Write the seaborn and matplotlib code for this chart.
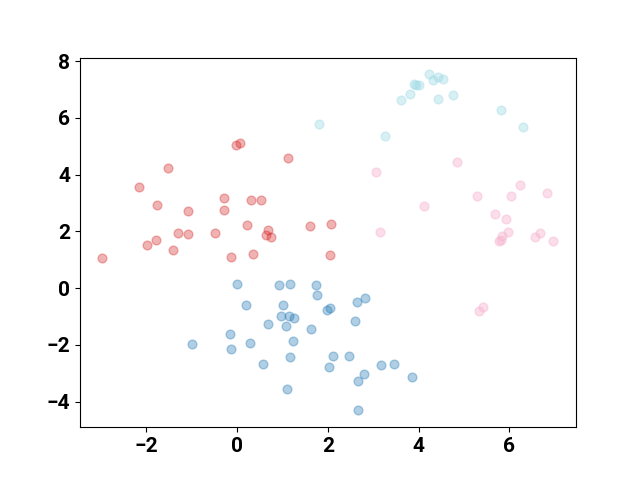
import pandas as pd
import matplotlib
matplotlib.use("Agg")
import matplotlib.pyplot as plt
import seaborn as sns

# Pontos, um grupo por cor
red_x = [-0.03, 0.06, 1.12, -1.53, -2.17, -1.76, -0.29, -0.28, -1.09, 0.30, 0.53, 0.21, 1.61, 2.07,
         0.68, 0.63, 0.74, -1.30, -1.09, -0.48, -1.78, -1.98, -1.41, -2.97, -0.13, 0.35, 2.05]
red_y = [5.05, 5.11, 4.57, 4.22, 3.56, 2.94, 3.17, 2.75, 2.73, 3.10, 3.10, 2.22, 2.18, 2.26,
         2.05, 1.87, 1.80, 1.95, 1.92, 1.95, 1.69, 1.53, 1.35, 1.07, 1.09, 1.21, 1.16]

blue_x = [0.00, 0.93, 1.17, 1.74, 1.77, 0.19, 1.02, 0.97, 1.15, 1.26, 1.07, 0.68, 1.62, 1.99, 2.04,
          -0.15, -0.13, 0.29, -1.00, 1.23, 1.17, 0.57, 1.10, 2.64, 2.82, 2.60, 2.11, 2.47, 2.03,
          3.17, 3.46, 2.80, 2.67, 3.85, 2.67]
blue_y = [0.16, 0.12, 0.13, 0.12, -0.24, -0.60, -0.58, -0.98, -0.99, -1.07, -1.34, -1.25, -1.43, -0.78, -0.71,
          -1.61, -2.16, -1.93, -1.96, -1.88, -2.41, -2.68, -3.57, -0.50, -0.36, -1.15, -2.38, -2.39, -2.78,
          -2.72, -2.68, -3.02, -3.29, -3.12, -4.30]

cyan_x = [1.81, 3.27, 3.61, 3.82, 3.89, 3.95, 4.00, 4.24, 4.32, 4.43, 4.55, 4.43, 4.76, 5.81, 6.30]
cyan_y = [5.77, 5.35, 6.64, 6.83, 7.18, 7.17, 7.14, 7.55, 7.33, 7.44, 7.38, 6.67, 6.81, 6.27, 5.68]

pink_x = [3.06, 4.84, 6.24, 5.28, 6.04, 6.83, 4.13, 5.68, 5.93, 3.15, 5.98, 5.84, 5.78, 5.82,
          6.57, 6.67, 6.97, 5.33, 5.43]
pink_y = [4.09, 4.43, 3.64, 3.25, 3.23, 3.35, 2.90, 2.61, 2.42, 1.99, 1.96, 1.82, 1.66, 1.70,
          1.80, 1.93, 1.65, -0.81, -0.66]

grupos = [
    (red_x, red_y, "#d62728", 0.35),
    (blue_x, blue_y, "#1f77b4", 0.35),
    (cyan_x, cyan_y, "#9edae5", 0.4),
    (pink_x, pink_y, "#f7b6d2", 0.45),
]

fig, ax = plt.subplots(figsize=(6.4, 4.8), dpi=100)

for xs, ys, cor, a in grupos:
    df = pd.DataFrame({"x": xs, "y": ys})
    sns.scatterplot(data=df, x="x", y="y", color=cor, alpha=a, s=40,
                    edgecolor=cor, linewidth=1, ax=ax)

ax.set_xlim(-3.46, 7.47)
ax.set_ylim(-4.9, 8.12)
ax.set_xlabel("")
ax.set_ylabel("")
ax.set_xticks([-2, 0, 2, 4, 6])
ax.set_yticks([-4, -2, 0, 2, 4, 6, 8])
for lab in ax.get_xticklabels() + ax.get_yticklabels():
    lab.set_fontfamily("Roboto")
    lab.set_fontweight("bold")
    lab.set_fontsize(15)

plt.savefig("out.png")
